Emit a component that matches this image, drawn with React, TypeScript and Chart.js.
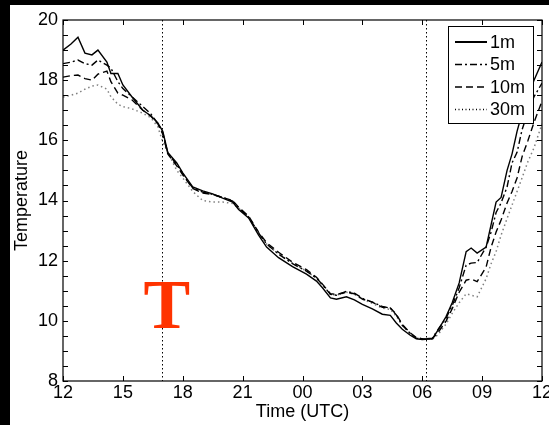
import React, { useEffect, useRef } from "react";
import { Chart, registerables } from "chart.js";

Chart.register(...registerables);

// Time in hours from 12 UTC (day 1) to 12 UTC (day 2)
const times = [12, 12.4, 12.75, 13.1, 13.45, 13.75, 14.2, 14.4, 14.75, 15.0, 15.45, 16.0, 16.4, 16.75, 17.0, 17.25, 17.7, 18.0, 18.5, 19.0, 19.5, 20.0, 20.5, 20.8, 21.3, 21.8, 22.2, 22.8, 23.5, 24.2, 24.7, 25.0, 25.4, 25.7, 26.2, 26.6, 27.0, 27.5, 28.0, 28.4, 28.7, 29.0, 29.4, 29.7, 30.0, 30.5, 30.8, 31.2, 31.5, 31.85, 32.2, 32.45, 32.75, 33.2, 33.45, 33.7, 33.95, 34.25, 34.5, 34.75, 35.0, 35.3, 35.6, 36.0];

const temp1m = [19.0, 19.2, 19.43, 18.9, 18.84, 19.0, 18.6, 18.22, 18.22, 17.84, 17.45, 17.0, 16.82, 16.58, 16.3, 15.6, 15.25, 14.92, 14.45, 14.32, 14.22, 14.08, 13.95, 13.7, 13.42, 12.85, 12.45, 12.1, 11.8, 11.55, 11.32, 11.1, 10.76, 10.72, 10.8, 10.7, 10.55, 10.4, 10.22, 10.18, 9.93, 9.72, 9.52, 9.4, 9.38, 9.4, 9.7, 10.15, 10.6, 11.26, 12.3, 12.42, 12.25, 12.45, 13.2, 13.95, 14.1, 15.0, 15.55, 16.3, 16.9, 17.5, 18.0, 18.6];

const temp5m = [18.55, 18.6, 18.67, 18.55, 18.5, 18.67, 18.5, 18.4, 17.95, 17.72, 17.45, 17.12, 16.88, 16.56, 16.25, 15.58, 15.2, 14.88, 14.42, 14.28, 14.2, 14.1, 13.98, 13.75, 13.45, 12.92, 12.55, 12.22, 11.9, 11.65, 11.42, 11.2, 10.88, 10.85, 10.98, 10.92, 10.75, 10.62, 10.48, 10.42, 10.2, 9.85, 9.58, 9.42, 9.4, 9.42, 9.72, 10.1, 10.5, 11.1, 11.85, 11.92, 11.94, 12.45, 12.95, 13.6, 13.92, 14.45, 15.25, 15.6, 16.35, 16.95, 17.45, 17.9];

const temp10m = [18.1, 18.15, 18.17, 18.05, 18.0, 18.2, 18.3, 17.95, 17.57, 17.5, 17.35, 17.0, 16.8, 16.55, 16.2, 15.55, 15.15, 14.85, 14.4, 14.25, 14.2, 14.1, 14.0, 13.78, 13.48, 12.95, 12.6, 12.28, 11.95, 11.7, 11.45, 11.22, 10.9, 10.88, 10.95, 10.9, 10.72, 10.62, 10.45, 10.43, 10.22, 9.88, 9.6, 9.45, 9.4, 9.4, 9.62, 10.0, 10.4, 10.95, 11.35, 11.39, 11.3, 11.79, 12.45, 12.95, 13.35, 13.92, 14.3, 14.75, 15.45, 16.0, 16.6, 17.3];

const temp30m = [17.44, 17.5, 17.57, 17.7, 17.8, 17.84, 17.7, 17.45, 17.2, 17.12, 17.05, 16.9, 16.75, 16.45, 15.95, 15.6, 15.0, 14.75, 14.3, 14.0, 13.95, 13.95, 13.9, 13.75, 13.45, 12.92, 12.55, 12.22, 11.92, 11.65, 11.42, 11.2, 10.88, 10.85, 10.95, 10.88, 10.72, 10.58, 10.42, 10.38, 10.15, 9.85, 9.58, 9.42, 9.4, 9.38, 9.55, 9.9, 10.25, 10.6, 10.9, 10.85, 10.8, 11.4, 11.9, 12.3, 12.85, 13.4, 13.85, 14.3, 14.75, 15.3, 15.75, 16.55];

const seriesLabels = ["1m", "5m", "10m", "30m"];
const seriesColors = ["#000000", "#000000", "#000000", "#808080"];
const seriesDashes: number[][] = [[], [7, 3, 2, 3], [7, 4], [1.5, 3]];

const xTicks = [12, 15, 18, 21, 24, 27, 30, 33, 36];
const yMin = 8;
const yMax = 20;
const markerTimes = [16.95, 30.2];
const annotationText = "T";
const annotationAt = { x: 17.2, y: 9.76 };

const FONT = '"Liberation Sans", Arial, sans-serif';

function fmtHour(v: number): string {
  const h = ((v % 24) + 24) % 24;
  return h < 10 ? "0" + h : String(h);
}

const decorPlugin = {
  id: "decor",
  afterDatasetsDraw(chart: any) {
    const { ctx, chartArea, scales } = chart;
    const { left, top, right, bottom } = chartArea;
    const x = scales.x;
    const y = scales.y;
    ctx.save();

    // vertical dotted marker lines
    ctx.strokeStyle = "#000";
    ctx.lineWidth = 1;
    ctx.setLineDash([1.5, 2.5]);
    for (const t of markerTimes) {
      const px = Math.round(x.getPixelForValue(t)) + 0.5;
      ctx.beginPath();
      ctx.moveTo(px, top);
      ctx.lineTo(px, bottom);
      ctx.stroke();
    }
    ctx.setLineDash([]);

    // frame
    ctx.strokeStyle = "#000";
    ctx.lineWidth = 1.2;
    ctx.strokeRect(left, top, right - left, bottom - top);

    // x ticks (inward, top and bottom)
    ctx.lineWidth = 1;
    for (const t of xTicks) {
      const px = Math.round(x.getPixelForValue(t)) + 0.5;
      ctx.beginPath();
      ctx.moveTo(px, bottom);
      ctx.lineTo(px, bottom - 5);
      ctx.moveTo(px, top);
      ctx.lineTo(px, top + 5);
      ctx.stroke();
    }
    // y ticks every 0.5 (inward, left and right)
    for (let v = yMin; v <= yMax + 1e-9; v += 0.5) {
      const py = Math.round(y.getPixelForValue(v)) + 0.5;
      ctx.beginPath();
      ctx.moveTo(left, py);
      ctx.lineTo(left + 5, py);
      ctx.moveTo(right, py);
      ctx.lineTo(right - 5, py);
      ctx.stroke();
    }

    // red T annotation
    ctx.fillStyle = "#ff3300";
    ctx.font = 'bold 70px "Liberation Serif", "Times New Roman", serif';
    ctx.textAlign = "center";
    ctx.textBaseline = "alphabetic";
    ctx.fillText(annotationText, x.getPixelForValue(annotationAt.x), y.getPixelForValue(annotationAt.y));

    // legend box
    const bw = 85;
    const bh = 97;
    const bx = right - 9 - bw;
    const by = top + 6;
    ctx.fillStyle = "#fff";
    ctx.fillRect(bx, by, bw, bh);
    ctx.strokeStyle = "#000";
    ctx.lineWidth = 1;
    ctx.strokeRect(bx + 0.5, by + 0.5, bw, bh);
    ctx.font = "18px " + FONT;
    ctx.textAlign = "left";
    ctx.textBaseline = "middle";
    for (let i = 0; i < seriesLabels.length; i++) {
      const cy = by + 16 + i * 22.5;
      ctx.strokeStyle = i === 3 ? "#000" : seriesColors[i];
      ctx.lineWidth = i === 0 ? 2 : 1.5;
      ctx.setLineDash(i === 3 ? [1, 2.5] : seriesDashes[i]);
      ctx.beginPath();
      ctx.moveTo(bx + 7, cy);
      ctx.lineTo(bx + 39, cy);
      ctx.stroke();
      ctx.setLineDash([]);
      ctx.fillStyle = "#000";
      ctx.fillText(seriesLabels[i], bx + 42, cy + 1);
    }
    ctx.restore();
  },
};

export default function App() {
  const canvasRef = useRef<HTMLCanvasElement | null>(null);

  useEffect(() => {
    const canvas = canvasRef.current;
    if (!canvas) return;
    const series = [temp1m, temp5m, temp10m, temp30m];
    const chart = new Chart(canvas, {
      type: "line",
      data: {
        datasets: series.map((vals, i) => ({
          label: seriesLabels[i],
          data: times.map((t, j) => ({ x: t, y: vals[j] })),
          borderColor: seriesColors[i],
          borderDash: seriesDashes[i],
          borderWidth: i === 3 ? 1.5 : 1.4,
          pointRadius: 0,
          tension: 0,
          fill: false,
        })),
      },
      options: {
        animation: false,
        responsive: false,
        layout: { padding: { left: 0, top: 20, right: 7, bottom: 0 } },
        plugins: {
          legend: { display: false },
          tooltip: { enabled: false },
        },
        scales: {
          x: {
            type: "linear",
            min: 12,
            max: 36,
            grid: { display: false, drawTicks: false },
            border: { display: false },
            afterBuildTicks: (s: any) => {
              s.ticks = xTicks.map((v) => ({ value: v }));
            },
            afterFit: (s: any) => {
              s.height = 44;
              s.paddingLeft = 0;
              s.paddingRight = 0;
            },
            ticks: {
              autoSkip: false,
              maxRotation: 0,
              padding: 1,
              color: "#000",
              font: { family: FONT, size: 18 },
              callback: (v: any) => fmtHour(Number(v)),
            },
            title: {
              display: true,
              text: "Time (UTC)",
              color: "#000",
              font: { family: FONT, size: 18 },
              padding: { top: 0, bottom: 2 },
            },
          },
          y: {
            type: "linear",
            min: yMin,
            max: yMax,
            grid: { display: false, drawTicks: false },
            border: { display: false },
            afterFit: (s: any) => {
              s.width = 63;
              s.paddingTop = 0;
              s.paddingBottom = 0;
            },
            ticks: {
              stepSize: 2,
              autoSkip: false,
              padding: 5,
              color: "#000",
              font: { family: FONT, size: 18 },
              callback: (v: any) => String(v),
            },
            title: {
              display: true,
              text: "Temperature",
              color: "#000",
              font: { family: FONT, size: 18 },
              padding: { top: 11, bottom: 0 },
            },
          },
        },
      },
      plugins: [decorPlugin],
    } as any);
    return () => chart.destroy();
  }, []);

  return (
    <div style={{ position: "fixed", left: 0, top: 0, width: 549, height: 425, background: "#000", overflow: "hidden" }}>
      <div style={{ position: "absolute", left: 10, top: 5, right: 0, bottom: 0, background: "#fff" }} />
      <canvas ref={canvasRef} width={549} height={425} style={{ position: "absolute", left: 0, top: 0 }} />
    </div>
  );
}
